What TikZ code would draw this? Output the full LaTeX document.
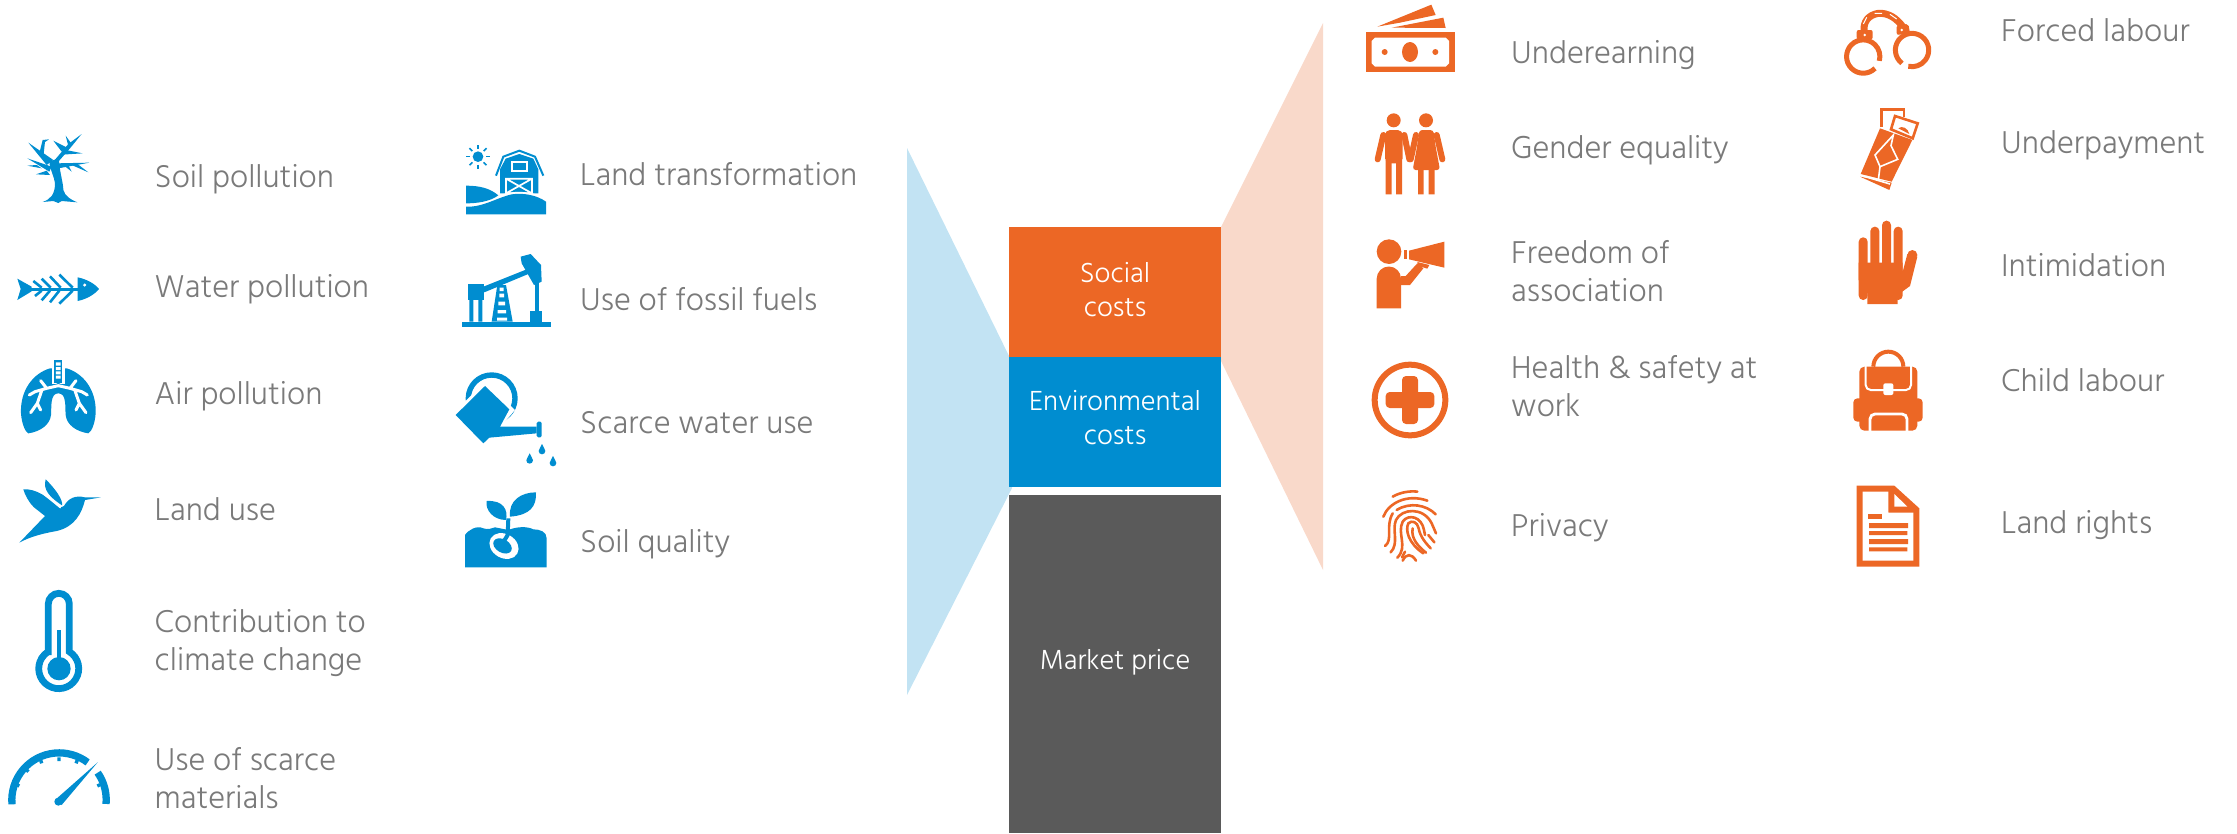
\documentclass[tikz,border=0pt]{standalone}
\usepackage{fontspec}
\usetikzlibrary{calc}
\setmainfont{Hind Madurai Light}
\definecolor{eblue}{HTML}{008DD0}
\definecolor{eorange}{HTML}{EC6725}
\definecolor{lblue}{HTML}{C2E3F3}
\definecolor{lorange}{HTML}{F9D9CA}
\definecolor{dgray}{HTML}{5A5A5A}
\definecolor{tgray}{HTML}{7A7A7A}
\tikzset{
  zm/.style 2 args={shift={(#1,#2)},x=0.33333pt,y=-0.33333pt},
  lab/.style={text=tgray,font=\fontsize{32.4}{38}\selectfont,inner sep=0pt,anchor=base west,align=left},
  boxt/.style={text=white,font=\fontsize{28.3}{34}\selectfont,inner sep=0pt,align=center},
}
\begin{document}
\begin{tikzpicture}[x=1pt,y=-1pt]
\useasboundingbox (0,0) rectangle (2237,833);
% fans
\fill[lblue] (907,148) -- (1009,356) -- (1012,488) -- (907,695) -- cycle;
\fill[lorange] (1323,23) -- (1221,227) -- (1221,361) -- (1323,570) -- cycle;
% stack
\fill[eorange] (1009,227) rectangle (1221,356.5);
\fill[eblue] (1009,356.5) rectangle (1221,487);
\fill[dgray] (1009,495) rectangle (1221,833);
\node[boxt] (social) at (1115,290) {Social\\costs};
\node[boxt] (env) at (1115,418) {Environmental\\costs};
\node[boxt] (market) at (1115,662) {Market price};
% labels
\node[lab] (l1) at (154.5,187) {Soil pollution};
\node[lab] (l2) at (154.5,297) {Water pollution};
\node[lab] (l3) at (154.5,404) {Air pollution};
\node[lab] (l4) at (154.5,520) {Land use};
\node[lab] (l5) at (154.5,670) {Contribution to\\climate change};
\node[lab] (l6) at (154.5,808) {Use of scarce\\materials};
\node[lab] (m1) at (580,185) {Land transformation};
\node[lab] (m2) at (580,310) {Use of fossil fuels};
\node[lab] (m3) at (580,433) {Scarce water use};
\node[lab] (m4) at (580,552) {Soil quality};
\node[lab] (r1) at (1511,63) {Underearning};
\node[lab] (r2) at (1511,158) {Gender equality};
\node[lab] (r3) at (1511,301) {Freedom of\\association};
\node[lab] (r4) at (1511,416) {Health \& safety at\\work};
\node[lab] (r5) at (1511,536) {Privacy};
\node[lab] (s1) at (2001,41) {Forced labour};
\node[lab] (s2) at (2001,153) {Underpayment};
\node[lab] (s3) at (2001,276) {Intimidation};
\node[lab] (s4) at (2001,391) {Child labour};
\node[lab] (s5) at (2001,533) {Land rights};
% ---------- blue icons, column 1
\begin{scope}[zm={0}{120},eblue]
% tree
\fill (128,246) .. controls (150,238) and (165,225) .. (165,190) .. controls (163,170) and (150,150) .. (148,125) -- (175,115) -- (178,130) .. controls (180,160) and (190,190) .. (190,210) .. controls (195,230) and (215,240) .. (232,247) -- (185,243) -- (175,249) -- (160,243) -- cycle;
\fill (140,135) -- (85,68) -- (160,120) -- cycle;
\fill (118,100) -- (128,60) -- (147,58) -- (135,66) -- (130,110) -- cycle;
\fill (148,155) -- (82,115) -- (155,140) -- cycle;
\fill (110,135) -- (82,137) -- (125,145) -- cycle;
\fill (140,152) -- (108,163) -- (150,165) -- cycle;
\fill (160,125) -- (205,72) -- (245,42) -- (210,85) -- (175,125) -- cycle;
\fill (200,82) -- (160,62) -- (185,95) -- cycle;
\fill (205,78) -- (197,47) -- (215,72) -- cycle;
\fill (188,88) -- (248,100) -- (185,104) -- cycle;
\fill (170,130) -- (268,128) -- (175,145) -- cycle;
\fill (215,135) -- (265,157) -- (230,130) -- cycle;
\fill (190,135) -- (215,155) -- (205,135) -- cycle;
% fish
\fill (52,476) -- (95,500) -- (95,514) -- (52,540) -- (62,507) -- cycle;
\fill (90,503) rectangle (240,512);
\fill (233,472) .. controls (262,478) and (285,492) .. (297,507) .. controls (285,522) and (262,537) .. (233,543) -- cycle;
\fill[white] (254,495) circle (5);
\draw[line width=2.6pt] (125,503) -- (100,483) (152,503) -- (125,476) (182,503) -- (150,469) (218,503) -- (178,464);
\draw[line width=2.6pt] (125,512) -- (105,528) (150,512) -- (125,541) (178,512) -- (150,547) (218,512) -- (178,551);
% lungs
\fill (150,745) .. controls (100,760) and (60,810) .. (63,880) .. controls (65,910) and (75,935) .. (85,940) .. controls (120,935) and (150,915) .. (153,885) .. controls (155,860) and (150,820) .. (175,820) .. controls (200,820) and (195,860) .. (197,885) .. controls (200,915) and (230,935) .. (265,940) .. controls (275,935) and (285,910) .. (287,880) .. controls (290,810) and (250,760) .. (200,745) -- cycle;
\fill[white] (156,735) rectangle (194,793);
\fill (175,788) -- (155,800) -- (195,800) -- cycle;
\fill (163,720) rectangle (187,790);
\fill[white] (168,727) rectangle (182,737) (168,741) rectangle (182,750) (168,754) rectangle (182,763) (168,767) rectangle (182,776);
\draw[white,line width=3pt,line cap=round,line join=round] (175,797) -- (140,805) -- (122,782) (140,805) -- (105,815) -- (88,825) (125,812) -- (112,850) -- (92,878) (112,850) -- (122,870);
\draw[white,line width=3pt,line cap=round,line join=round] (175,797) -- (210,805) -- (228,782) (210,805) -- (245,815) -- (262,825) (225,812) -- (238,850) -- (258,878) (238,850) -- (228,870);
\end{scope}
\begin{scope}[zm={0}{480},eblue]
% hummingbird
\fill (58,188) -- (135,108) -- (102,82) .. controls (85,65) and (75,45) .. (70,28) .. controls (105,25) and (145,50) .. (178,84) -- (192,78) .. controls (205,55) and (225,45) .. (255,52) -- (303,52) -- (255,60) .. controls (245,100) and (225,140) .. (170,153) .. controls (130,160) and (90,170) .. (58,188) -- cycle;
\fill (137,-2) .. controls (128,30) and (150,52) .. (186,76) .. controls (190,60) and (165,25) .. (137,-2) -- cycle;
\draw[white,line width=1pt] (132,44) -- (182,84);
% thermometer
\draw[line width=6.8pt] (145,515) -- (145,371.5) arc (180:360:31.5) -- (208,515) arc (-58:238:60) -- cycle;
\fill (170,450) rectangle (184,545);
\fill (177,566) circle (35);
% gauge
\draw[line width=7.3pt] (36,973) arc (175:307:142);
\draw[line width=7.3pt] (293,878) arc (325:365:142);
\draw[line width=3.4pt] (58,918) -- (50,914) (85,875) -- (78,868) (125,850) -- (122,840) (177,843) -- (177,832) (228,850) -- (232,840) (292,918) -- (300,914);
\fill (165,960) -- (293,847) -- (185,975) -- cycle;
\fill (175,965) circle (12);
\end{scope}
% ---------- blue icons, column 2
\begin{scope}[zm={440}{130},eblue]
% barn
\fill (114,80) circle (16);
\foreach \a in {0,45,...,315} \draw[line width=1.6pt] ($(114,80)+(\a:24)$) -- ($(114,80)+(\a:36)$);
\draw[line width=2pt,line join=round] (168,137) -- (190,80) -- (238,62) -- (285,80) -- (310,137);
\fill (180,190) -- (180,118) -- (197,86) -- (238,72) -- (280,86) -- (295,118) -- (295,190) -- cycle;
\draw[white,line width=1.7pt] (215,97) rectangle (261,124);
\draw[white,line width=1.7pt] (198,146) rectangle (276,190) (198,146) -- (276,190) (276,146) -- (198,190);
\fill[white] (170,200) .. controls (210,180) and (270,180) .. (318,205) -- (318,225) -- (170,225) -- cycle;
\fill (78,167) .. controls (120,167) and (150,175) .. (175,196) .. controls (150,215) and (110,220) .. (78,220) -- cycle;
\fill (78,230) .. controls (130,232) and (165,205) .. (215,193) .. controls (250,188) and (290,195) .. (318,215) -- (318,253) -- (78,253) -- cycle;
% pumpjack
\fill (65,575) rectangle (332,592);
\fill (83,463) rectangle (132,510);
\fill (88,510) rectangle (100,575) (115,510) rectangle (127,575);
\fill (130,470) -- (260,418) -- (265,432) -- (133,487) -- cycle;
\fill (242,380) -- (272,372) -- (303,405) -- (305,455) -- (282,465) -- (245,400) -- cycle;
\fill (285,460) rectangle (297,545);
\fill (270,542) rectangle (307,575);
\fill (172,465) -- (198,465) -- (218,575) -- (155,575) -- cycle;
\fill[white] (179,473) rectangle (191,483) (178,491) rectangle (192,502) (175,515) rectangle (195,526) (173,540) rectangle (198,550) (171,563) rectangle (201,572);
% watering can
\draw[line width=5.4pt] (155,805) circle (70);
\fill[white] (135,755) -- (225,840) -- (130,950) -- (35,855) -- cycle;
\fill (47,855) -- (135,768) -- (208,838) -- (180,890) -- (290,890) -- (290,910) -- (148,923) -- (130,940) -- cycle;
\fill[rounded corners=1.5pt] (290,875) rectangle (305,922);
\foreach \px/\py in {306/942,269/970,339/978} {
  \fill (\px,\py) .. controls ($(\px,\py)+(3,10)$) and ($(\px,\py)+(10,14)$) .. ($(\px,\py)+(10,21)$) arc (0:180:10) .. controls ($(\px,\py)+(-10,14)$) and ($(\px,\py)+(-3,10)$) .. (\px,\py) -- cycle;
}
% soil
\fill (75,1312) -- (75,1215) .. controls (85,1200) and (110,1185) .. (130,1195) .. controls (145,1200) and (155,1195) .. (165,1192) -- (205,1200) .. controls (230,1190) and (260,1188) .. (280,1198) .. controls (300,1198) and (320,1205) .. (320,1225) -- (320,1312) -- cycle;
\fill[white,rotate around={-30:(192,1248)}] (192,1248) ellipse (46 and 36);
\fill[rotate around={-30:(192,1248)}] (188,1250) ellipse (30 and 20);
\draw[line width=4pt] (205,1165) -- (203,1215) -- (188,1240);
\fill (140,1113) .. controls (190,1110) and (205,1140) .. (198,1170) .. controls (160,1170) and (135,1140) .. (140,1113) -- cycle;
\fill (288,1087) .. controls (290,1130) and (270,1155) .. (210,1160) .. controls (205,1110) and (245,1087) .. (288,1087) -- cycle;
\end{scope}
% ---------- orange icons, column 1
\begin{scope}[zm={1340}{0},eorange]
% money
\fill (77,96) rectangle (344,217);
\fill[white] (105,113) -- (317,113) -- (327,123) -- (327,190) -- (317,200) -- (105,200) -- (95,190) -- (95,123) -- cycle;
\fill (210,156) ellipse (24 and 30);
\fill (134,156) circle (9) (286,156) circle (9);
\fill (112,80) -- (274,14) -- (287,45) -- (180,68) -- cycle;
\fill (155,83) -- (310,53) -- (317,84) -- cycle;
% couple
\fill (161,361) circle (21) (258,361) circle (21);
\fill[rounded corners=5pt] (135,490) -- (135,390) -- (188,390) -- (188,490) -- cycle;
\fill (137,480) rectangle (155,583) (168,480) rectangle (186,583);
\draw[line width=6pt,line cap=round] (130,405) -- (113,478) (193,405) -- (208,478);
\fill[rounded corners=3pt] (238,390) -- (280,390) -- (287,440) -- (300,510) -- (218,510) -- (231,440) -- cycle;
\fill (234,505) rectangle (251,583) (266,505) rectangle (284,583);
\draw[line width=6pt,line cap=round] (228,405) -- (212,478) (290,405) -- (307,478);
% megaphone person
\fill (147,755) circle (37);
\fill (110,925) -- (110,836) arc (180:360:36.5) -- (183,925) -- cycle;
\fill (183,828) -- (197,828) -- (232,790) -- (250,805) -- (210,855) -- (183,855) -- cycle;
\fill (207,752) -- (313,725) -- (313,803) -- (207,778) -- cycle;
\fill (192,750) rectangle (201,778);
\fill (232,786) -- (268,795) -- (262,806) -- (235,798) -- cycle;
\end{scope}
\begin{scope}[zm={1340}{320},eorange]
\draw[line width=6pt] (210,240) circle (106);
\fill[rounded corners=4pt] (186,168) rectangle (234,312);
\fill[rounded corners=4pt] (137,216) rectangle (283,264);
% fingerprint
\begin{scope}[line width=2.6pt,line cap=round]
\draw (158,530) .. controls (180,517) and (210,512) .. (232,515);
\draw (130,590) .. controls (145,550) and (200,520) .. (262,542);
\draw (170,570) .. controls (210,545) and (260,555) .. (287,583);
\draw (135,678) .. controls (160,660) and (135,620) .. (158,580);
\draw (152,697) .. controls (178,670) and (155,630) .. (168,600) .. controls (185,565) and (250,560) .. (275,610) -- (288,640);
\draw (172,713) .. controls (205,680) and (170,640) .. (188,605) .. controls (205,580) and (245,590) .. (252,630) -- (255,645);
\draw (250,700) .. controls (205,670) and (195,630) .. (205,610) .. controls (215,600) and (232,605) .. (236,625) .. controls (240,650) and (258,670) .. (272,685);
\draw (218,625) .. controls (212,655) and (235,680) .. (258,698);
\draw (188,722) .. controls (198,700) and (215,700) .. (228,722);
\draw (265,645) -- (283,667);
\draw (195,695) -- (186,712);
\end{scope}
\end{scope}
% ---------- orange icons, column 2
\begin{scope}[zm={1830}{0},eorange]
% handcuffs
\draw[line width=5pt] (135,205) arc (45:375:50);
\draw[line width=5pt] (216,190) arc (127:463:50);
\fill[rounded corners=2pt] (80,90) rectangle (128,118);
\fill[white] (104,105) circle (4);
\fill[rounded corners=2pt] (200,75) -- (235,72) -- (240,100) -- (200,105) -- cycle;
\fill[white] (215,90) circle (4);
\draw[line width=7pt,line join=round] (102,92) .. controls (100,65) and (115,45) .. (145,40) .. controls (175,38) and (200,55) .. (218,80);
\draw[white,line width=1pt] (100,72) -- (110,52) (134,40) -- (156,40) (180,43) -- (200,57);
% chocolate
\draw[line width=2.6pt] (155,382) -- (155,328) -- (222,328) -- (222,352);
\draw[line width=2.6pt] (195,348) -- (263,370) -- (248,415) -- (183,388) -- cycle;
\fill (205,385) .. controls (215,375) and (235,385) .. (238,402) -- cycle;
\fill (150,385) -- (247,420) -- (185,545) -- (92,522) -- cycle;
\fill (90,530) -- (185,548) -- (178,570) -- cycle;
\draw[white,line width=1.6pt] (190,405) -- (183,437) -- (203,478) -- (150,500) -- (135,465) -- cycle;
\draw[white,line width=1.6pt] (150,500) -- (145,540);
\draw[white,line width=1.6pt] (92,526) -- (180,552);
% hand
\fill[rounded corners=4.4pt] (86,900) -- (86,712) -- (113,712) -- (113,900) -- cycle;
\fill[rounded corners=4.4pt] (121,900) -- (121,680) -- (148,680) -- (148,900) -- cycle;
\fill[rounded corners=4.4pt] (156,900) -- (156,662) -- (183,662) -- (183,900) -- cycle;
\fill[rounded corners=4.4pt] (191,900) -- (191,680) -- (218,680) -- (218,900) -- cycle;
\fill (86,788) -- (218,788) -- (218,815) -- (232,762) -- (262,770) -- (240,858) -- (203,885) -- (203,912) -- (112,912) -- (112,880) -- (86,840) -- cycle;
\fill (247,765) circle (15);
\end{scope}
\begin{scope}[zm={1830}{320},eorange]
% backpack
\draw[line width=4pt] (130,140) arc (180:360:45);
\fill[rounded corners=5pt] (88,140) rectangle (262,332);
\fill[rounded corners=4pt] (70,235) rectangle (278,305);
\draw[white,line width=2pt,rounded corners=5pt] (107,130) -- (107,210) -- (243,210) -- (243,130);
\draw[white,line width=2.8pt,rounded corners=5pt] (120,334) -- (120,282) -- (231,282) -- (231,334);
\fill[white,rounded corners=2pt] (160,190) rectangle (190,225);
% document
\fill (80,497) -- (193,497) -- (268,565) -- (268,740) -- (80,740) -- cycle;
\fill[white] (98,515) -- (175,515) -- (175,578) -- (250,578) -- (250,722) -- (98,722) -- cycle;
\fill[white] (193,522) -- (193,560) -- (232,560) -- cycle;
\fill (114,582) rectangle (156,596);
\fill (117,609) rectangle (234,624) (117,633) rectangle (232,645) (117,657) rectangle (234,672) (117,682) rectangle (232,694);
\end{scope}
\end{tikzpicture}
\end{document}
